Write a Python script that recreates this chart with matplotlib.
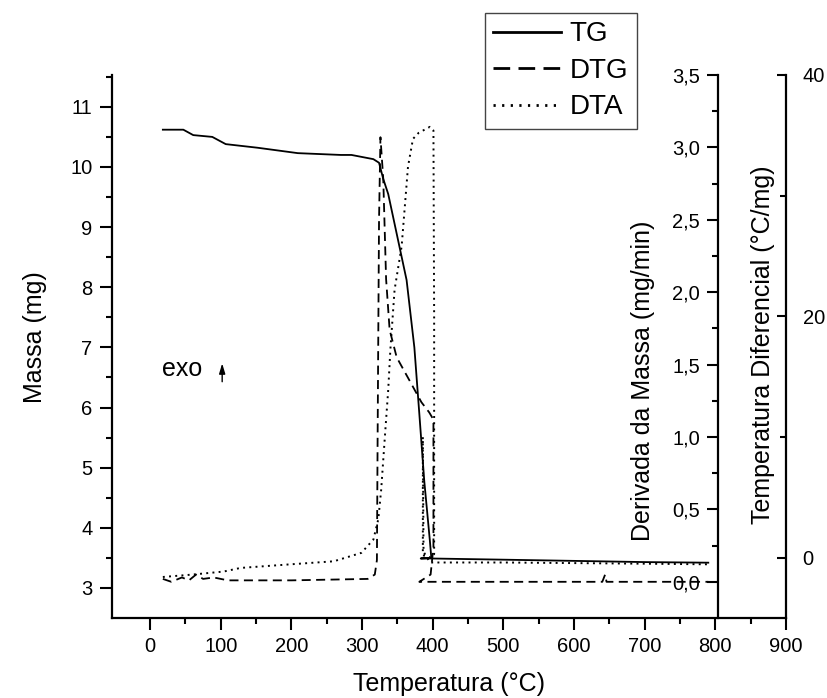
import numpy as np
import matplotlib
matplotlib.use("Agg")
import matplotlib.pyplot as plt
from matplotlib.lines import Line2D
from matplotlib.ticker import FixedLocator, FuncFormatter

plt.rcParams['font.family'] = ['Liberation Sans', 'DejaVu Sans']

# TG curve: temperature (C) vs mass (mg)
tg_temp = [18, 47, 61, 88, 107, 152, 209, 270, 285, 316, 324, 330, 337, 351,
           363, 374, 381, 388, 396, 398, 383, 397, 500, 600, 700, 790]
tg_mass = [10.62, 10.62, 10.53, 10.50, 10.38, 10.32, 10.23, 10.20, 10.20, 10.13,
           10.07, 9.80, 9.55, 8.78, 8.12, 7.00, 5.90, 4.78, 3.78, 3.50, 3.49,
           3.49, 3.47, 3.45, 3.43, 3.42]

# DTG curve: temperature (C) vs mass derivative (mg/min)
dtg_temp = [18, 30, 45, 55, 65, 75, 90, 110, 200, 308, 318, 321, 322, 324, 326,
            330, 334, 339, 349, 366, 384, 395, 401, 401, 397, 381, 500, 640,
            644, 646, 700, 790]
dtg_val = [0.02, 0.0, 0.03, 0.01, 0.05, 0.02, 0.03, 0.01, 0.01, 0.02, 0.05, 0.15,
           1.0, 2.5, 3.07, 2.78, 2.09, 1.74, 1.55, 1.40, 1.24, 1.17, 1.12, 0.24,
           0.05, 0.0, 0.0, 0.0, 0.05, 0.0, 0.0, 0.0]

# DTA curve: temperature (C) vs differential temperature (C/mg)
dta_temp = [18, 60, 104, 128, 199, 260, 299, 316, 323, 327, 332, 337, 340, 346,
            356, 365, 372, 380, 396, 401, 402, 402, 398, 386, 386, 387, 396,
            500, 600, 700, 790]
dta_val = [-1.6, -1.4, -1.15, -0.85, -0.55, -0.3, 0.4, 1.5, 3.2, 5.6, 9.8, 13.9,
           17.2, 22.2, 25.8, 32.4, 34.7, 35.2, 35.7, 35.4, 20.0, 0.3, 0.0, 0.2,
           10.0, 0.5, -0.4, -0.4, -0.45, -0.5, -0.55]

x_major = [0, 100, 200, 300, 400, 500, 600, 700, 800, 900]
x_minor = [50, 150, 250, 350, 450, 550, 650, 750, 850]
mass_major = [3, 4, 5, 6, 7, 8, 9, 10, 11]
mass_minor = [3.5, 4.5, 5.5, 6.5, 7.5, 8.5, 9.5, 10.5, 11.5]
dtg_major = [0.0, 0.5, 1.0, 1.5, 2.0, 2.5, 3.0, 3.5]
dtg_minor = [0.25, 0.75, 1.25, 1.75, 2.25, 2.75, 3.25]
dta_major = [0, 20, 40]
dta_minor = [10, 30]

fig = plt.figure(figsize=(8.27, 6.98), dpi=100)
ax = fig.add_axes([0.1354, 0.1146, 0.815, 0.778])

tick_kw = dict(width=1.5, labelsize=14.5, colors='black')
spine_lw = 1.6

# main axis (TG)
ax.plot(tg_temp, tg_mass, color='black', lw=1.3)
ax.set_xlim(-54, 900)
ax.set_ylim(2.5, 11.53)
for s in ['top', 'right']:
    ax.spines[s].set_visible(False)
for s in ['left', 'bottom']:
    ax.spines[s].set_linewidth(spine_lw)
ax.xaxis.set_major_locator(FixedLocator(x_major))
ax.xaxis.set_minor_locator(FixedLocator(x_minor))
ax.yaxis.set_major_locator(FixedLocator(mass_major))
ax.yaxis.set_minor_locator(FixedLocator(mass_minor))
ax.tick_params(which='major', direction='out', length=8.5, pad=5.5, **tick_kw)
ax.tick_params(which='minor', direction='out', length=4, width=1.5)
ax.set_xlabel('Temperatura (°C)', fontsize=18, labelpad=11)
ax.set_ylabel('Massa (mg)', fontsize=18)
ax.yaxis.set_label_coords(-0.097, 0.517)

# DTG axis, spine inside the plot
ax2 = ax.twinx()
ax2.plot(dtg_temp, dtg_val, color='black', lw=1.3, ls=(0, (5, 3)))
ax2.set_ylim(-0.25, 3.5)
for s in ['top', 'right', 'bottom']:
    ax2.spines[s].set_visible(False)
ax2.spines['left'].set_visible(True)
ax2.spines['left'].set_position(('axes', 0.899))
ax2.spines['left'].set_linewidth(spine_lw)
ax2.yaxis.set_ticks_position('left')
ax2.yaxis.set_label_position('left')
ax2.yaxis.set_major_locator(FixedLocator(dtg_major))
ax2.yaxis.set_minor_locator(FixedLocator(dtg_minor))
ax2.yaxis.set_major_formatter(FuncFormatter(lambda v, p: f"{v:.1f}".replace('.', ',')))
ax2.tick_params(which='major', direction='out', length=8, pad=5, **tick_kw)
ax2.tick_params(which='minor', direction='out', length=4, width=1.5)
ax2.text(0.788, 0.436, 'Derivada da Massa (mg/min)', transform=ax2.transAxes,
         rotation=90, ha='center', va='center', fontsize=18)

# DTA axis on the right edge
ax3 = ax.twinx()
ax3.plot(dta_temp, dta_val, color='black', lw=1.4, ls=(0, (1, 2.2)))
ax3.set_ylim(-5, 40)
for s in ['top', 'left', 'bottom']:
    ax3.spines[s].set_visible(False)
ax3.spines['right'].set_linewidth(spine_lw)
ax3.yaxis.set_major_locator(FixedLocator(dta_major))
ax3.yaxis.set_minor_locator(FixedLocator(dta_minor))
ax3.tick_params(which='major', direction='in', length=6.5, pad=12, **tick_kw)
ax3.tick_params(which='minor', direction='in', length=4, width=1.5)
ax3.text(0.966, 0.503, 'Temperatura Diferencial (°C/mg)', transform=ax3.transAxes,
         rotation=90, ha='center', va='center', fontsize=18)

# exo marker
ax.text(0.074, 0.445, 'exo', transform=ax.transAxes, fontsize=18,
        ha='left', va='baseline')
ax.annotate('', xy=(0.1635, 0.474), xytext=(0.1635, 0.43), xycoords='axes fraction',
            arrowprops=dict(arrowstyle='-|>,head_length=0.6,head_width=0.18',
                            color='black', lw=1.0))

# legend
handles = [Line2D([], [], color='black', lw=2),
           Line2D([], [], color='black', lw=2, ls=(0, (6, 3))),
           Line2D([], [], color='black', lw=2, ls=(0, (0.8, 2.3)))]
leg = fig.legend(handles, ['TG', 'DTG', 'DTA'], loc='upper left',
                 bbox_to_anchor=(485 / 827, 1 - 13 / 698), fontsize=20,
                 frameon=True, fancybox=False, framealpha=1, edgecolor='#444444',
                 handlelength=2.45, handletextpad=0.3, labelspacing=0.38,
                 borderpad=0.3, borderaxespad=0)
leg.get_frame().set_linewidth(1.0)
leg.set_zorder(10)

fig.savefig('out.png', dpi=100)
